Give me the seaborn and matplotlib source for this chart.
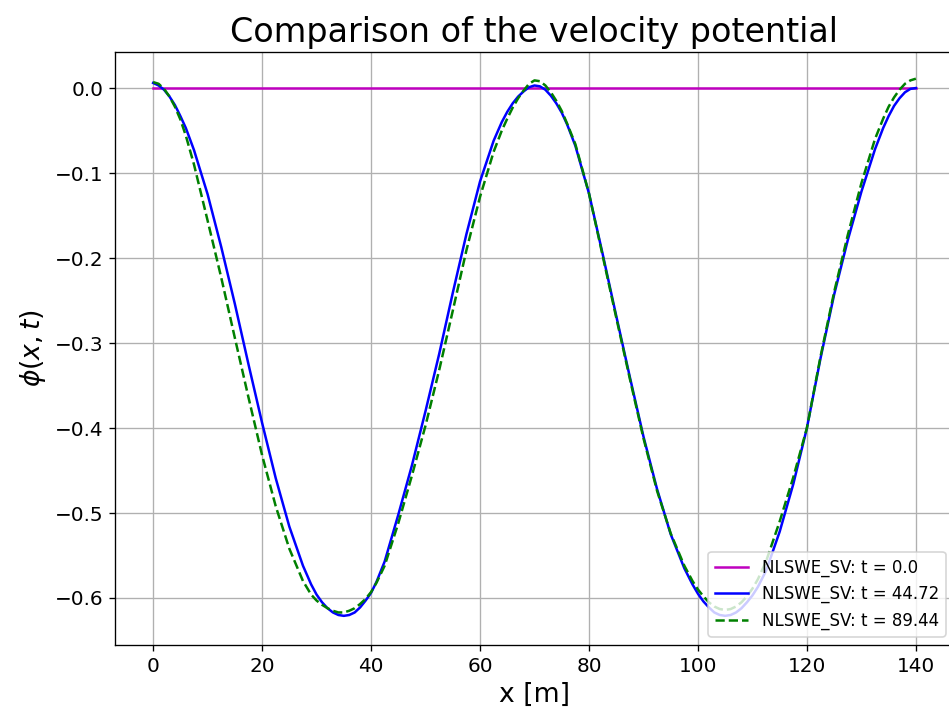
import numpy as np
import pandas as pd
import matplotlib
matplotlib.use("Agg")
import matplotlib.pyplot as plt
import seaborn as sns

# ---- data ----
x_m = [0, 1, 2, 3, 4, 5, 6,
       7.5, 10, 12.5, 15, 17.5, 20, 22.5, 25, 27.5,
       29, 30, 31, 32, 33, 34, 35, 36, 37, 38, 39, 40, 41,
       42.5, 45, 47.5, 50, 52.5, 55, 57.5, 60, 62.5,
       64, 65, 66, 67, 68, 69, 70, 71, 72, 73, 74, 75, 76,
       77.5, 80, 82.5, 85, 87.5, 90, 92.5, 95, 97.5,
       99, 100, 101, 102, 103, 104, 105, 106, 107, 108, 109, 110, 111,
       112.5, 115, 117.5, 120, 122.5, 125, 127.5, 130, 132.5,
       134, 135, 136, 137, 138, 139, 140]

phi_t0 = [0.0, 0.0, 0.0, 0.0, 0.0, 0.0, 0.0,
          0.0, 0.0, 0.0, 0.0, 0.0, 0.0, 0.0, 0.0, 0.0,
          0.0, 0.0, 0.0, 0.0, 0.0, 0.0, 0.0, 0.0, 0.0, 0.0, 0.0, 0.0, 0.0,
          0.0, 0.0, 0.0, 0.0, 0.0, 0.0, 0.0, 0.0, 0.0,
          0.0, 0.0, 0.0, 0.0, 0.0, 0.0, 0.0, 0.0, 0.0, 0.0, 0.0, 0.0, 0.0,
          0.0, 0.0, 0.0, 0.0, 0.0, 0.0, 0.0, 0.0, 0.0,
          0.0, 0.0, 0.0, 0.0, 0.0, 0.0, 0.0, 0.0, 0.0, 0.0, 0.0, 0.0, 0.0,
          0.0, 0.0, 0.0, 0.0, 0.0, 0.0, 0.0, 0.0, 0.0,
          0.0, 0.0, 0.0, 0.0, 0.0, 0.0, 0.0]

phi_t1 = [0.006, 0.003, -0.002, -0.010, -0.020, -0.033, -0.047,
          -0.073, -0.125, -0.187, -0.254, -0.325, -0.394, -0.459, -0.516, -0.562,
          -0.584, -0.596, -0.605, -0.612, -0.617, -0.620, -0.621, -0.620, -0.617,
          -0.611, -0.603, -0.594, -0.581,
          -0.557, -0.502, -0.444, -0.380, -0.313, -0.241, -0.172, -0.110, -0.062,
          -0.040, -0.028, -0.018, -0.010, -0.004, 0.001, 0.003, 0.002, -0.002,
          -0.009, -0.018, -0.029, -0.043,
          -0.068, -0.124, -0.195, -0.268, -0.340, -0.410, -0.472, -0.525, -0.565,
          -0.584, -0.595, -0.604, -0.611, -0.617, -0.620, -0.621, -0.620, -0.617,
          -0.612, -0.605, -0.597, -0.587,
          -0.568, -0.522, -0.466, -0.400, -0.318, -0.243, -0.179, -0.122, -0.072,
          -0.047, -0.033, -0.021, -0.012, -0.005, -0.001, 0.000]

phi_t2 = [0.007, 0.005, -0.001, -0.010, -0.022, -0.037, -0.056,
          -0.090, -0.156, -0.223, -0.294, -0.364, -0.432, -0.492, -0.542, -0.580,
          -0.596, -0.603, -0.608, -0.612, -0.615, -0.617, -0.617, -0.615, -0.612,
          -0.607, -0.601, -0.593, -0.582,
          -0.562, -0.512, -0.456, -0.397, -0.332, -0.262, -0.191, -0.128, -0.075,
          -0.050, -0.036, -0.023, -0.012, -0.003, 0.005, 0.009, 0.008, 0.003,
          -0.005, -0.015, -0.027, -0.042,
          -0.066, -0.124, -0.197, -0.270, -0.342, -0.412, -0.474, -0.524, -0.562,
          -0.580, -0.590, -0.598, -0.605, -0.610, -0.613, -0.614, -0.613, -0.610,
          -0.605, -0.598, -0.589, -0.578,
          -0.557, -0.510, -0.458, -0.400, -0.316, -0.240, -0.173, -0.112, -0.060,
          -0.036, -0.022, -0.011, -0.002, 0.005, 0.009, 0.011]

labels = ["NLSWE_SV: t = 0.0", "NLSWE_SV: t = 44.72", "NLSWE_SV: t = 89.44"]
colors = ["m", "b", "g"]
styles = ["-", "-", "--"]

# ---- figure ----
DPI = 120
fig = plt.figure(figsize=(949 / DPI, 715 / DPI), dpi=DPI)
ax = fig.add_axes([115 / 949, 70 / 715, 839 / 949, 593 / 715])

for y, lab, c, ls in zip([phi_t0, phi_t1, phi_t2], labels, colors, styles):
    df = pd.DataFrame({"x": x_m, "phi": y})
    sns.lineplot(data=df, x="x", y="phi", color=c, linestyle=ls, label=lab,
                 ax=ax, linewidth=1.5, sort=False)

ax.set_xlim(-7, 147)
ax.set_ylim(-0.6553, 0.0424)
ax.set_yticks([0.0, -0.1, -0.2, -0.3, -0.4, -0.5, -0.6])
ax.set_xticks([0, 20, 40, 60, 80, 100, 120, 140])
ax.grid(True)
ax.tick_params(labelsize=12)
ax.set_title("Comparison of the velocity potential", fontsize=20)
ax.set_xlabel("x [m]", fontsize=16)
ax.set_ylabel(r"$\phi(x,t)$", fontsize=16)
ax.legend(loc="lower right", fontsize=10)

fig.savefig("out.png", dpi=DPI)
